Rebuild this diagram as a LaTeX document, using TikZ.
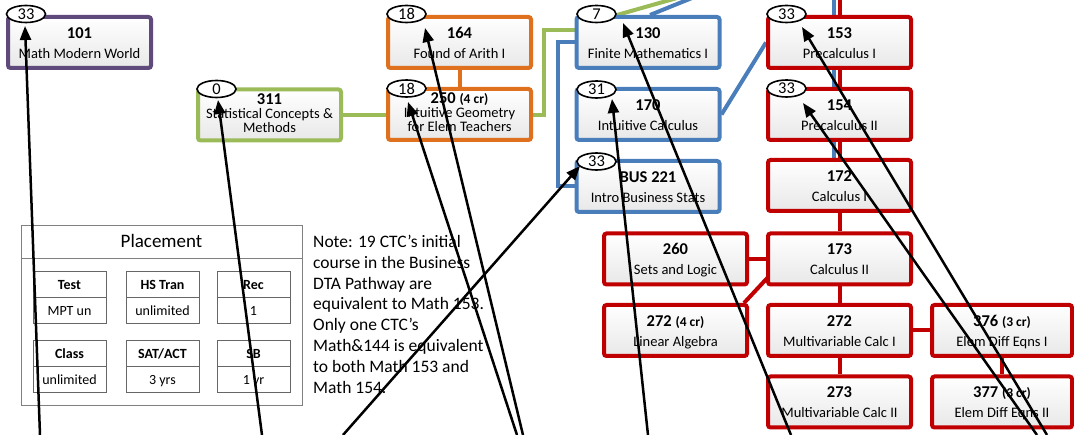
\documentclass[tikz,border=0pt]{standalone}
\usepackage{fontspec}
\setmainfont{Carlito}
\usetikzlibrary{arrows.meta,shapes.geometric}
\pgfdeclarelayer{bg}
\pgfsetlayers{bg,main}
\definecolor{cpur}{RGB}{96,74,123}
\definecolor{cgrn}{RGB}{155,187,89}
\definecolor{corg}{RGB}{222,112,30}
\definecolor{cblu}{RGB}{74,126,187}
\definecolor{cred}{RGB}{192,0,0}
\definecolor{cgry}{RGB}{128,128,128}
\newcommand\fs[1]{\fontsize{#1}{#1}\selectfont}
\newcommand\crs[6]{%
 \node[box,#4] (#1) at (#2,#3) {};
 \node[num,anchor=base] (#1n) at (#2,#3-4) {#5};
 \node[ttl,anchor=base] (#1t) at (#2,#3+16) {#6};}
\newcommand\crsiii[7]{%
 \node[box,#4] (#1) at (#2,#3) {};
 \node[num,anchor=base] (#1n) at (#2,#3-10.5) {#5};
 \node[ttl,anchor=base] (#1t) at (#2,#3+3.5) {#6};
 \node[ttl,anchor=base] (#1u) at (#2,#3+17.5) {#7};}
\newcommand\crd[1]{{\fs{13.5}(#1 cr)}}
\begin{document}
\begin{tikzpicture}[x=1pt,y=-1pt,
 box/.style={rectangle,line width=4pt,rounded corners=2.5pt,minimum width=143pt,minimum height=51pt,top color=white,bottom color=black!9,inner sep=0pt},
 num/.style={font=\fs{16.5}\bfseries,inner sep=0pt},
 ttl/.style={font=\fs{14.5},inner sep=0pt},
 badge/.style={ellipse,draw=black,line width=1.6pt,fill=white,minimum width=39pt,minimum height=17pt,inner sep=0pt,font=\fs{16.5}},
 link/.style={line width=4pt},
 ptr/.style={line width=2.5pt,-{Triangle[length=14pt,width=11pt]}},
 cell/.style={draw=black!60,line width=1pt},
 chead/.style={font=\fs{14}\bfseries,inner sep=0pt,anchor=base},
 cval/.style={font=\fs{14},inner sep=0pt,anchor=base}]
\useasboundingbox (0,0) rectangle (1074,435);
\begin{scope}
\clip (0,0) rectangle (1074,435);
% courses
\crs{c101}{79.5}{42.5}{draw=cpur}{101}{Math Modern World}
\crsiii{c311}{269.5}{115}{draw=cgrn}{311}{Statistical Concepts \&}{Methods}
\crs{c164}{459.5}{42.5}{draw=corg}{164}{Found of Arith I}
\crsiii{c250}{459.5}{114.5}{draw=corg}{250 \crd{4}}{Intuitive Geometry}{for Elem Teachers}
\crs{c130}{648}{42.5}{draw=cblu}{130}{Finite Mathematics I}
\crs{c170}{648}{114.5}{draw=cblu}{170}{Intuitive Calculus}
\crs{cBUS}{648}{186.5}{draw=cblu}{BUS 221}{Intro Business Stats}
\crs{c153}{839.5}{42.5}{draw=cred}{153}{Precalculus I}
\crs{c154}{839.5}{114.5}{draw=cred}{154}{Precalculus II}
\crs{c172}{839.5}{185.5}{draw=cred}{172}{Calculus I}
\crs{c173}{839.5}{259}{draw=cred}{173}{Calculus II}
\crs{c272m}{839.5}{330.5}{draw=cred}{272}{Multivariable Calc I}
\crs{c273}{839.5}{402}{draw=cred}{273}{Multivariable Calc II}
\crs{c260}{675.5}{259}{draw=cred}{260}{Sets and Logic}
\crs{c272l}{675.5}{330.5}{draw=cred}{272 \crd{4}}{Linear Algebra}
\crs{c376}{1002}{330.5}{draw=cred,minimum width=140pt}{376 \crd{3}}{Elem Diff Eqns I}
\crs{c377}{1002}{402}{draw=cred,minimum width=140pt}{377 \crd{3}}{Elem Diff Eqns II}
% connectors (behind)
\coordinate (g1) at (544,115);
\coordinate (g2) at (544,30);
\coordinate (gtop) at (723,-15);
\coordinate (btop) at (724,-15);
\coordinate (b1) at (558,42.5);
\coordinate (bvert) at (834,-10);
\coordinate (rtop) at (839.5,-10);
\begin{pgfonlayer}{bg}
\clip (0,0) rectangle (1074,435);
\draw[link,cgrn] (c311.east) -- (g1) -- (g2) -- (g2 -| c130.west);
\draw[link,cgrn] ([xshift=-31pt]c130.north) -- (gtop);
\draw[link,cblu] ([xshift=2pt]c130.north) -- (btop);
\draw[link,cblu] (c130.west) -- (b1) |- (cBUS.west);
\draw[link,cblu] (c170.east) -- (c153.west);
\draw[link,cblu] (bvert) -- (bvert |- c172.north);
\draw[link,corg] (c164.south) -- (c250.north);
\draw[link,cred] (rtop) -- (c153.north);
\draw[link,cred] (c153) -- (c154);
\draw[link,cred] (c154) -- (c172);
\draw[link,cred] (c172) -- (c173);
\draw[link,cred] (c173) -- (c272m);
\draw[link,cred] (c272m) -- (c273);
\draw[link,cred] (c173.west) -- (c260.east);
\draw[link,cred] ([xshift=-5pt]c272l.north east) -- ([shift={(12,-20)}]c173.south west);
\draw[link,cred] (c272m.east) -- (c376.west);
\draw[link,cred] (c376.south) -- (c377.north);
\end{pgfonlayer}
% badges
\node[badge] (e101) at (26,14) {33};
\node[badge] (e311) at (216.5,89) {0};
\node[badge] (e164) at (406.5,14) {18};
\node[badge] (e250) at (406.5,88.5) {18};
\node[badge] (e130) at (596.5,14) {7};
\node[badge] (e170) at (596.5,89.5) {31};
\node[badge] (eBUS) at (596.5,161.5) {33};
\node[badge] (e153) at (786.5,14) {33};
\node[badge] (e154) at (786.5,88.5) {33};
% placement table
\draw[draw=cgry,line width=1pt] (21,226) rectangle (302,406);
\draw[draw=cgry,line width=1pt] (21,259) -- (302,259);
\node[font=\fs{19},inner sep=0pt,anchor=base] (plc) at (161.5,248) {Placement};
\foreach \x/\y/\h/\v [count=\i] in {33/272/Test/MPT un,126/272/HS Tran/unlimited,217/272/Rec/1,33/341/Class/unlimited,126/341/SAT\slash ACT/3 yrs,217/341/SB/1 yr}{
 \draw[cell] (\x,\y) rectangle (\x+73,\y+52);
 \draw[cell] (\x,\y+26) -- (\x+73,\y+26);
 \node[chead] (h\i) at (\x+36.5,\y+17.5) {\h};
 \node[cval] (v\i) at (\x+36.5,\y+43.5) {\v};
}
% note
\node[anchor=north west,inner sep=0pt,align=left,font=\fontsize{17.5}{20.8}\selectfont] (note) at (313,235) {Note: 19 CTC’s initial\\course in the Business\\DTA Pathway are\\equivalent to Math 153.\\Only one CTC’s\\Math\&144 is equivalent\\to both Math 153 and\\Math 154.};
% pointer arrows
\coordinate (s101) at (40,435);
\coordinate (s311) at (262,435);
\coordinate (sBUS) at (343,435);
\coordinate (s164) at (523,435);
\coordinate (s250) at (517,435);
\coordinate (s130) at (791,435);
\coordinate (s170) at (648,435);
\coordinate (s153) at (1047,435);
\coordinate (s154) at (1037,435);
\draw[ptr] (s101) -- ([shift={(-1,12)}]e101.center);
\draw[ptr] (s311) -- ([shift={(1.5,11)}]e311.center);
\draw[ptr] (sBUS) -- ([shift={(-16.5,4.5)}]eBUS.center);
\draw[ptr] (s164) -- ([shift={(18.5,14)}]e164.center);
\draw[ptr] (s250) -- ([shift={(1.5,13.5)}]e250.center);
\draw[ptr] (s130) -- ([shift={(26.5,9)}]e130.center);
\draw[ptr] (s170) -- ([shift={(15.5,9.5)}]e170.center);
\draw[ptr] (s153) -- ([shift={(15.5,13)}]e153.center);
\draw[ptr] (s154) -- ([shift={(16.5,14.5)}]e154.center);
\end{scope}
\end{tikzpicture}
\end{document}
